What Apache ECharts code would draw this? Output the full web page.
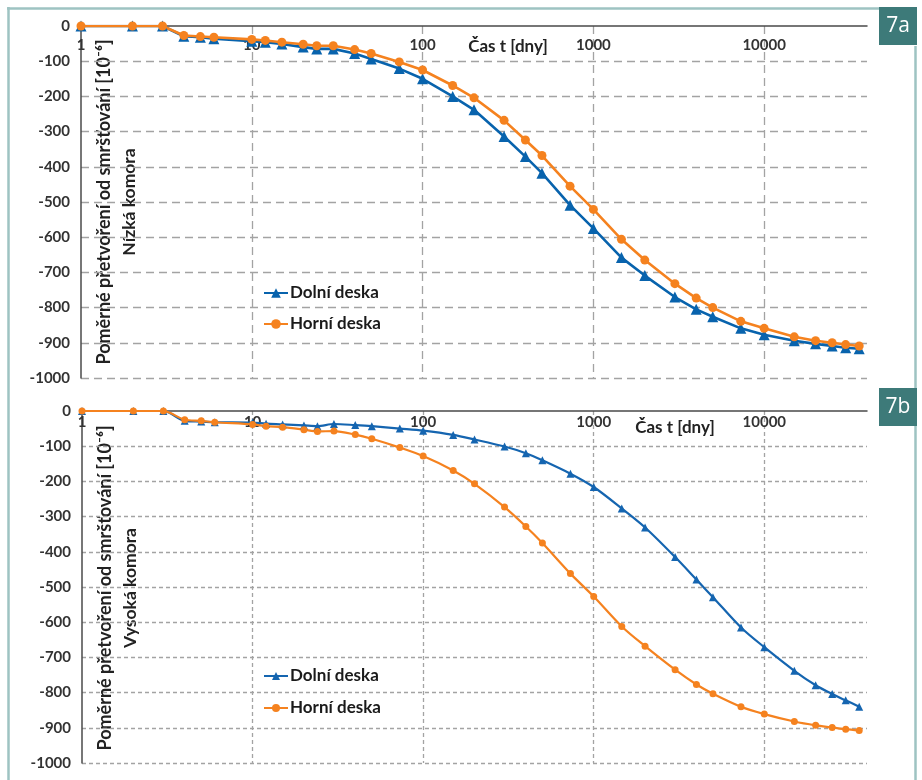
<!DOCTYPE html>
<html>
<head>
<meta charset="utf-8">
<script src="https://cdn.jsdelivr.net/npm/echarts@6/dist/echarts.min.js"></script>
<style>
html,body{margin:0;padding:0;background:#fff;}
#c{width:922px;height:780px;}
</style>
</head>
<body>
<div id="c"></div>
<script>
// Time [days]
var days = [1,2,3,4,5,6,10,12,15,20,24,30,40,50,73,100,150,200,300,400,500,730,1000,1460,2000,3000,4000,5000,7300,10000,15000,20000,25000,30000,36000];
// 7a – Nízká komora
var lowDolni = [0,0,0,-29,-32,-36,-43,-46,-51,-60,-65,-65,-78,-94,-121,-150,-200,-238,-314,-371,-418,-509,-575,-658,-709,-770,-805,-826,-859,-877,-894,-903,-909,-914,-917];
var lowHorni = [0,0,0,-27,-30,-32,-38,-41,-46,-52,-56,-56,-67,-78,-102,-125,-169,-204,-268,-324,-368,-455,-521,-606,-665,-732,-773,-800,-839,-859,-883,-894,-900,-905,-909];
// 7b – Vysoká komora
var highDolni = [0,0,0,-28,-30,-32,-33,-36,-38,-41,-43,-37,-40,-43,-50,-56,-68,-81,-101,-120,-140,-178,-216,-277,-331,-415,-479,-529,-615,-671,-738,-779,-804,-822,-840];
var highHorni = [0,0,0,-25,-28,-32,-38,-43,-46,-53,-58,-57,-67,-79,-104,-128,-169,-207,-273,-328,-375,-462,-527,-612,-668,-735,-777,-803,-840,-861,-882,-893,-899,-904,-908];
var xTicks = [1,10,100,1000,10000];
var seriesNames = ['Dolní deska','Horní deska'];

var FONT = 'Lato';
var BLUE = '#0863ad';
var ORANGE = '#f5821f';

function pairs(vals){ return days.map(function(d,i){ return [d, vals[i]]; }); }

function xAxisCfg(gi, margin, dash){
  return {
    type:'log', gridIndex:gi, logBase:10, min:1, max:40000, position:'top',
    axisLine:{show:true, onZero:false, lineStyle:{color:'#4a4a4a', width:1.5}},
    axisTick:{show:false},
    axisLabel:{inside:true, margin:margin, color:'#333', fontFamily:FONT, fontWeight:'bold', fontSize:15,
      showMaxLabel:false,
      formatter:function(v){ var r=Math.round(v); return (xTicks.indexOf(r)>=0 && Math.abs(v-r)<1e-6) ? String(r) : ''; }},
    splitLine:{show:true, showMinLine:false, showMaxLine:false, lineStyle:{color:'#a3a3a3', width:1.3, type:dash}}
  };
}
function yAxisCfg(gi, dash){
  return {
    type:'value', gridIndex:gi, min:-1000, max:0, interval:100,
    axisLine:{show:true, onZero:false, lineStyle:{color:'#4a4a4a', width:1.5}},
    axisTick:{show:false},
    axisLabel:{margin:11, color:'#333', fontFamily:FONT, fontWeight:'bold', fontSize:15,
      formatter:function(v){ return String(v); }},
    splitLine:{show:true, showMaxLine:false, lineStyle:{color:'#a3a3a3', width:1.3, type:dash}}
  };
}
function lineSeries(name, gi, vals, color, symbol, size, width, smooth){
  return {
    type:'line', name:name, xAxisIndex:gi, yAxisIndex:gi, data:pairs(vals),
    symbol:symbol, symbolSize:size, showSymbol:true, smooth:smooth,
    lineStyle:{color:color, width:width}, itemStyle:{color:color}
  };
}
function vText(x, y, txt, size){
  return {type:'text', x:x, y:y, rotation:Math.PI/2,
    style:{text:txt, align:'center', verticalAlign:'middle', fontFamily:FONT, fontWeight:'bold', fontSize:size, fill:'#222'}};
}
function badge(y, label){
  return {type:'group', children:[
    {type:'rect', shape:{x:879, y:y, width:38, height:38}, style:{fill:'#3d7a79'}},
    {type:'text', x:898, y:y+19, style:{text:label, align:'center', verticalAlign:'middle', fontFamily:'Open Sans', fontSize:21, fill:'#fff'}}
  ]};
}
var frameColor = '#9ec3c2';
var yTitle = 'Poměrné přetvoření od smršťování [10\u207B\u2076]';

var chart = echarts.init(document.getElementById('c'), null, {renderer:'canvas'});
chart.setOption({
  animation:false,
  backgroundColor:'#fff',
  grid:[
    {left:81, top:26, width:786, height:352},
    {left:82, top:411, width:785, height:352}
  ],
  xAxis:[xAxisCfg(0, 12, [8,5]), xAxisCfg(1, 4, [4,3])],
  yAxis:[yAxisCfg(0, [8,5]), yAxisCfg(1, [4,3])],
  legend:[
    {orient:'vertical', left:263, top:283, padding:0, itemWidth:24, itemHeight:12, itemGap:11,
     data:[seriesNames[0], seriesNames[1]],
     textStyle:{fontFamily:FONT, fontWeight:'bold', fontSize:17, color:'#1a1a1a', lineHeight:20, padding:[0,0,0,-3]}},
    {orient:'vertical', left:263, top:666, padding:0, itemWidth:24, itemHeight:10, itemGap:12,
     data:[seriesNames[0]+' ', seriesNames[1]+' '],
     formatter:function(n){ return n.trim(); },
     textStyle:{fontFamily:FONT, fontWeight:'bold', fontSize:17, color:'#1a1a1a', lineHeight:20, padding:[0,0,0,-3]}}
  ],
  series:[
    lineSeries(seriesNames[0], 0, lowDolni, BLUE, 'triangle', 11, 2.6, false),
    lineSeries(seriesNames[1], 0, lowHorni, ORANGE, 'circle', 9, 2.6, false),
    lineSeries(seriesNames[0]+' ', 1, highDolni, '#1565b0', 'triangle', 8, 2.2, 0.3),
    lineSeries(seriesNames[1]+' ', 1, highHorni, ORANGE, 'circle', 7, 2.2, 0.3)
  ],
  graphic:[
    {type:'line', shape:{x1:7, y1:8.5, x2:879, y2:8.5}, style:{stroke:frameColor, lineWidth:2.5}},
    {type:'line', shape:{x1:8.5, y1:7, x2:8.5, y2:780}, style:{stroke:frameColor, lineWidth:2.5}},
    {type:'line', shape:{x1:915.5, y1:46, x2:915.5, y2:388}, style:{stroke:frameColor, lineWidth:2.5}},
    {type:'line', shape:{x1:915.5, y1:426, x2:915.5, y2:780}, style:{stroke:frameColor, lineWidth:2.5}},
    badge(7, '7a'),
    badge(388, '7b'),
    vText(104.5, 202, yTitle, 18),
    vText(129, 202, 'Nízká komora', 17.5),
    vText(105, 588, yTitle, 18),
    vText(130, 588, 'Vysoká komora', 17.5),
    {type:'text', x:508, y:47, style:{text:'Čas t [dny]', align:'center', verticalAlign:'middle', fontFamily:FONT, fontWeight:'bold', fontSize:17, fill:'#222'}},
    {type:'text', x:675, y:427.5, style:{text:'Čas t [dny]', align:'center', verticalAlign:'middle', fontFamily:FONT, fontWeight:'bold', fontSize:17, fill:'#222'}}
  ]
});
</script>
</body>
</html>
